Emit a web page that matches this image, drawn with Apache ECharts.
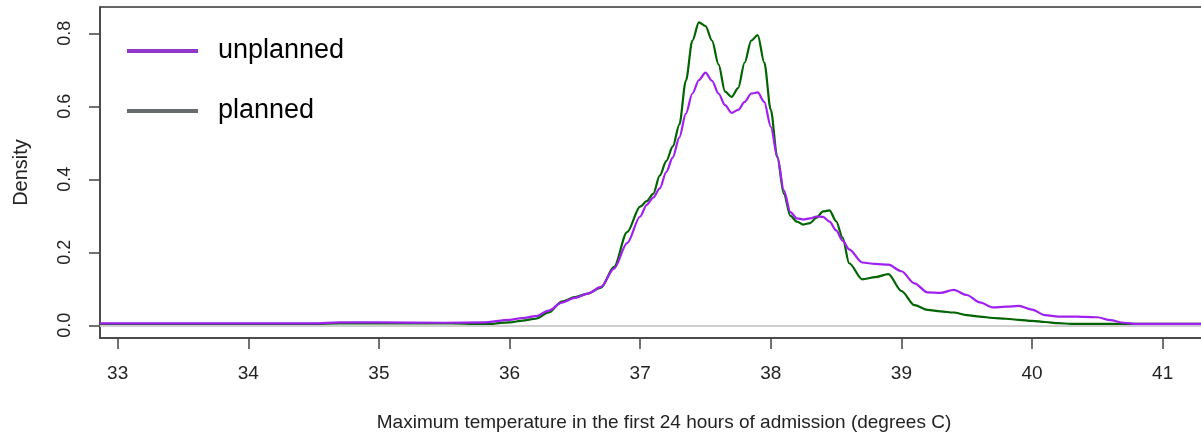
<!DOCTYPE html>
<html>
<head>
<meta charset="utf-8">
<script src="https://cdn.jsdelivr.net/npm/echarts@6/dist/echarts.min.js"></script>
<style>
  html, body { margin: 0; padding: 0; background: #fff; }
  #main { width: 1201px; height: 434px; }
</style>
</head>
<body>
<div id="main"></div>
<script>
// temperature grid (degrees C) shared by both density curves
var temps = [32.86, 34.5, 34.7, 35.0, 35.5, 35.8, 36.0, 36.1, 36.2, 36.3, 36.4, 36.5, 36.6, 36.7, 36.8, 36.9,
    37.0, 37.05, 37.1, 37.15, 37.2, 37.25, 37.3, 37.35, 37.4, 37.45, 37.5, 37.55, 37.6, 37.65, 37.7, 37.75,
    37.8, 37.85, 37.9, 37.95, 38.0, 38.05, 38.1, 38.15, 38.2, 38.25, 38.3, 38.35, 38.4, 38.45, 38.5, 38.55,
    38.6, 38.7, 38.8, 38.9, 39.0, 39.1, 39.2, 39.3, 39.4, 39.5, 39.6, 39.7, 39.8, 39.9, 40.0, 40.1,
    40.2, 40.3, 40.4, 40.5, 40.6, 40.7, 40.8, 41.0, 41.5];

var planned = [0.004, 0.004, 0.005, 0.005, 0.006, 0.003, 0.008, 0.013, 0.018, 0.035, 0.065, 0.077, 0.087, 0.103, 0.16, 0.255,
    0.325, 0.34, 0.36, 0.41, 0.45, 0.49, 0.55, 0.67, 0.78, 0.83, 0.82, 0.78, 0.715, 0.64, 0.626, 0.65,
    0.72, 0.78, 0.795, 0.72, 0.59, 0.46, 0.36, 0.30, 0.284, 0.276, 0.28, 0.295, 0.312, 0.315, 0.285, 0.24,
    0.17, 0.126, 0.132, 0.14, 0.094, 0.055, 0.042, 0.038, 0.035, 0.028, 0.024, 0.020, 0.018, 0.015, 0.012, 0.009,
    0.006, 0.004, 0.004, 0.004, 0.004, 0.004, 0.004, 0.004, 0.004];

var unplanned = [0.005, 0.005, 0.008, 0.008, 0.007, 0.008, 0.015, 0.02, 0.025, 0.04, 0.062, 0.075, 0.087, 0.105, 0.155, 0.225,
    0.298, 0.33, 0.35, 0.375, 0.42, 0.46, 0.515, 0.58, 0.635, 0.672, 0.692, 0.67, 0.635, 0.603, 0.582, 0.59,
    0.612, 0.635, 0.638, 0.612, 0.544, 0.462, 0.37, 0.31, 0.293, 0.29, 0.293, 0.298, 0.297, 0.284, 0.26, 0.232,
    0.208, 0.172, 0.168, 0.166, 0.148, 0.115, 0.09, 0.089, 0.097, 0.083, 0.063, 0.049, 0.051, 0.053, 0.043, 0.028,
    0.024, 0.024, 0.023, 0.022, 0.014, 0.007, 0.004, 0.004, 0.004];

var xTicks = [33, 34, 35, 36, 37, 38, 39, 40, 41];
var yTicks = [0, 0.2, 0.4, 0.6, 0.8];

function pairs(xs, ys) {
    var list = [];
    for (var i = 0; i < xs.length; i++) {
        list.push([xs[i], ys[i]]);
    }
    return list;
}

var myChart = echarts.init(document.getElementById('main'));
var font = 'Liberation Sans, Arial, sans-serif';
var axisColor = '#444';

var option = {
    animation: false,
    textStyle: { fontFamily: font },
    grid: {
        left: 100, top: 7, right: -27, bottom: 96,
        containLabel: false,
        outerBoundsMode: 'none',
        show: true, borderColor: '#333', borderWidth: 1.5
    },
    legend: {
        orient: 'vertical',
        left: 122, top: 31,
        itemWidth: 71, itemHeight: 4, itemGap: 30,
        textStyle: { fontSize: 27, color: '#000', lineHeight: 30, padding: [0, 0, 0, 15] },
        data: [
            { name: 'unplanned', icon: 'rect', itemStyle: { color: '#9038c8' } },
            { name: 'planned', icon: 'rect', itemStyle: { color: '#666b6d' } }
        ]
    },
    xAxis: {
        type: 'value',
        min: 32.865, max: 41.5,
        name: 'Maximum temperature in the first 24 hours of admission (degrees C)',
        nameLocation: 'middle', nameGap: 75,
        nameTextStyle: { fontSize: 19, color: '#222' },
        axisLine: { onZero: false, lineStyle: { color: axisColor, width: 1.5 } },
        axisTick: { inside: false, customValues: xTicks, length: 11, lineStyle: { color: axisColor, width: 1.5 } },
        axisLabel: { customValues: xTicks, fontSize: 19, color: '#222', margin: 26 },
        splitLine: { show: false }
    },
    yAxis: {
        type: 'value',
        min: -0.0348, max: 0.872,
        name: 'Density',
        nameLocation: 'middle', nameGap: 69,
        nameTextStyle: { fontSize: 20, color: '#222' },
        axisLine: { show: true, onZero: false, lineStyle: { color: axisColor, width: 1.5 } },
        axisTick: { show: true, customValues: yTicks, length: 11, lineStyle: { color: axisColor, width: 1.5 } },
        axisLabel: {
            customValues: yTicks, fontSize: 18, color: '#222', rotate: 90, margin: 26,
            formatter: function (v) { return v.toFixed(1); }
        },
        splitLine: { show: false }
    },
    series: [
        {
            name: 'planned',
            type: 'line',
            showSymbol: false,
            smooth: 0.3,
            smoothMonotone: 'x',
            lineStyle: { color: '#006400', width: 2.2 },
            itemStyle: { color: '#006400' },
            markLine: {
                silent: true,
                symbol: 'none',
                label: { show: false },
                lineStyle: { color: '#cfcfcf', width: 2, type: 'solid' },
                data: [{ yAxis: 0 }]
            },
            data: pairs(temps, planned)
        },
        {
            name: 'unplanned',
            type: 'line',
            showSymbol: false,
            smooth: 0.3,
            smoothMonotone: 'x',
            lineStyle: { color: '#a020f0', width: 2.2 },
            itemStyle: { color: '#a020f0' },
            data: pairs(temps, unplanned)
        }
    ]
};
myChart.setOption(option, true);
</script>
</body>
</html>
